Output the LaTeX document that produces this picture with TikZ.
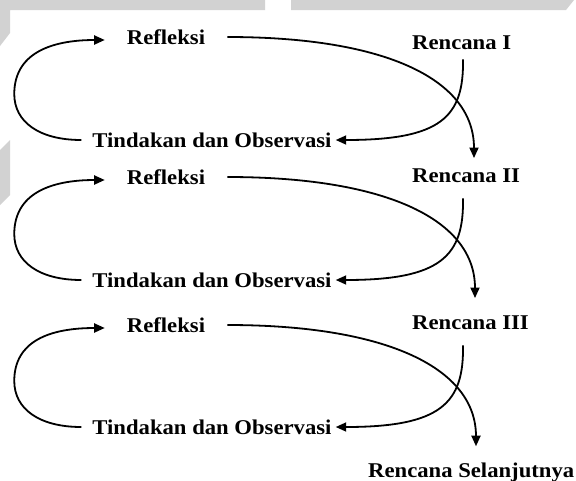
\documentclass[tikz,border=0pt]{standalone}
\usepackage{fontspec}
\setmainfont[FakeStretch=1.08]{Liberation Serif}
\usetikzlibrary{arrows.meta,calc}
\begin{document}
\begin{tikzpicture}[x=1pt,y=-1pt,
  lbl/.style={font=\bfseries\fontsize{21}{25}\selectfont, inner ysep=0pt},
  refl/.style={lbl, inner xsep=22pt},
  tind/.style={lbl, inner xsep=4pt},
  renc/.style={lbl, anchor=base west, inner xsep=0pt, inner ysep=10pt},
  flow/.style={line width=1.8pt, -{Triangle[length=10.5pt,width=9pt]}},
  wm/.style={fill=gray!35, draw=none}]
\useasboundingbox (0,0) rectangle (576,480);
\fill[white] (0,0) rectangle (576,480);
% watermark shapes
\fill[wm] (0,0) -- (265,0) -- (265,10) -- (10,10) -- (10,33) -- (0,46) -- cycle;
\fill[wm] (291,0) -- (574,0) -- (566,10) -- (291,10) -- cycle;
\fill[wm] (0,150) -- (10,140) -- (10,195) -- (0,205) -- cycle;

% nodes
\node[refl] (r1) at (166,37) {Refleksi};
\node[refl] (r2) at (166,177) {Refleksi};
\node[refl] (r3) at (166,325) {Refleksi};
\node[tind] (t1) at (212,140) {Tindakan dan Observasi};
\node[tind] (t2) at (212,280) {Tindakan dan Observasi};
\node[tind] (t3) at (212,427) {Tindakan dan Observasi};
\node[renc] (p1) at (412,49) {Rencana I};
\node[renc] (p2) at (412,182) {Rencana II};
\node[renc] (p3) at (412,329) {Rencana III};
\node[renc] (p4) at (368,477) {Rencana Selanjutnya};

% block 1
\draw[flow] ([xshift=-7pt]t1.west) .. controls +(-42,0) and +(0,28) .. ($(t1.west)+(-74,-46)$)
  .. controls +(0,-40) and +(-55,0) .. ([yshift=-3pt]r1.west);
\draw[flow] (r1.east) .. controls +(162,0) and +(0,-77) .. ([xshift=62pt]p2.north west);
\draw[flow] ([xshift=51pt]p1.south west) .. controls +(1,58) and +(105,0) .. (t1.east);

% block 2
\draw[flow] ([xshift=-7pt]t2.west) .. controls +(-42,0) and +(0,28) .. ($(t2.west)+(-74,-46)$)
  .. controls +(0,-40) and +(-55,0) .. ([yshift=-3pt]r2.west);
\draw[flow] (r2.east) .. controls +(162,0) and +(0,-77) .. ([xshift=63pt,yshift=7pt]p3.north west);
\draw[flow] ([xshift=51pt,yshift=-6pt]p2.south west) .. controls +(1,58) and +(105,0) .. (t2.east);

% block 3
\draw[flow] ([xshift=-7pt]t3.west) .. controls +(-42,0) and +(0,28) .. ($(t3.west)+(-74,-46)$)
  .. controls +(0,-40) and +(-55,0) .. ([yshift=-3pt]r3.west);
\draw[flow] (r3.east) .. controls +(162,0) and +(0,-77) .. ([xshift=108pt,yshift=6pt]p4.north west);
\draw[flow] ([xshift=51pt,yshift=-6pt]p3.south west) .. controls +(1,58) and +(105,0) .. (t3.east);
\end{tikzpicture}
\end{document}
